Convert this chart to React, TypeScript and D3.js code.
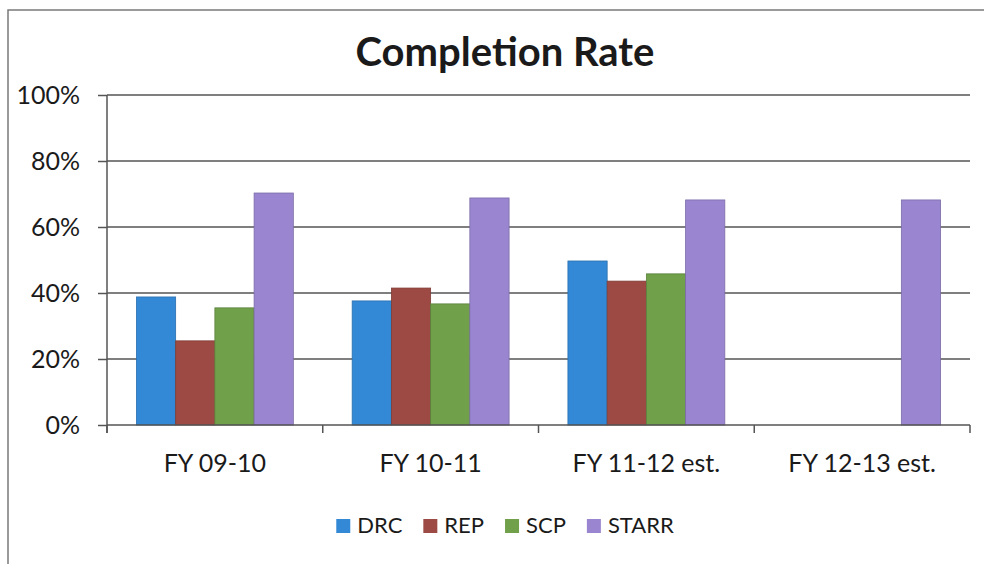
import React, { useRef, useEffect } from 'react';
import * as d3 from 'd3';

const categories = ['FY 09-10', 'FY 10-11', 'FY 11-12 est.', 'FY 12-13 est.'];
const seriesNames = ['DRC', 'REP', 'SCP', 'STARR'];
const drcValues = [0.388, 0.376, 0.497, null];
const repValues = [0.255, 0.415, 0.436, null];
const scpValues = [0.355, 0.367, 0.458, null];
const starrValues = [0.703, 0.688, 0.682, 0.682];
const seriesColors = ['#3489d6', '#9c4a43', '#71a04b', '#9a86d0'];
const yTicks = [0, 0.2, 0.4, 0.6, 0.8, 1];

const FONT = 'Lato, Calibri, Carlito, sans-serif';

export default function App() {
  const svgRef = useRef<SVGSVGElement>(null);

  useEffect(() => {
    if (!svgRef.current) return;
    const svg = d3.select(svgRef.current);
    svg.selectAll('*').remove();

    const width = 984;
    const height = 564;
    const margin = { top: 95, right: 14, bottom: 139, left: 107 };
    const values = [drcValues, repValues, scpValues, starrValues];

    const x0 = d3.scaleBand<string>()
      .domain(categories)
      .range([margin.left, width - margin.right])
      .padding(0);

    const x1 = d3.scaleBand<string>()
      .domain(seriesNames)
      .range([0, x0.bandwidth()])
      .paddingInner(0)
      .paddingOuter(0.75);

    const y = d3.scaleLinear()
      .domain([0, 1])
      .range([height - margin.bottom, margin.top]);

    // chart border: only the left and top edges fall inside the picture
    svg.append('path')
      .attr('d', `M8,${height} V10 H${width}`)
      .attr('fill', 'none').attr('stroke', '#7a7a7a').attr('stroke-width', 1.5);

    // title
    svg.append('text')
      .attr('x', 505).attr('y', 66)
      .attr('text-anchor', 'middle')
      .attr('font-family', FONT).attr('font-weight', 'bold').attr('font-size', 40)
      .attr('fill', '#1a1a1a')
      .text('Completion Rate');

    // gridlines
    svg.append('g')
      .selectAll('line')
      .data(yTicks.filter(d => d > 0))
      .join('line')
      .attr('x1', margin.left).attr('x2', width - margin.right)
      .attr('y1', d => y(d)).attr('y2', d => y(d))
      .attr('stroke', '#555').attr('stroke-width', 1.5);

    // bars
    seriesNames.forEach((name, si) => {
      svg.append('g')
        .selectAll('rect')
        .data(categories.map((c, i) => ({ c, v: values[si][i] })).filter(d => d.v != null))
        .join('rect')
        .attr('x', d => x0(d.c)! + x1(name)!)
        .attr('width', x1.bandwidth())
        .attr('y', d => y(d.v as number))
        .attr('height', d => y(0) - y(d.v as number))
        .attr('fill', seriesColors[si])
        .attr('stroke', d3.color(seriesColors[si])!.darker(0.6).toString())
        .attr('stroke-width', 0.8);
    });

    // y axis
    const yAxis = svg.append('g')
      .attr('transform', `translate(${margin.left},0)`)
      .call(d3.axisLeft(y).tickValues(yTicks).tickSize(9).tickPadding(18).tickFormat(d => `${Math.round((d as number) * 100)}%`));
    yAxis.select('.domain').remove();
    yAxis.append('line')
      .attr('x1', 0).attr('x2', 0).attr('y1', y(1)).attr('y2', y(0) + 8)
      .attr('stroke', '#555').attr('stroke-width', 1.5);
    yAxis.selectAll('line').attr('stroke', '#555').attr('stroke-width', 1.5);
    yAxis.selectAll('text').attr('font-family', FONT).attr('font-size', 25).attr('fill', '#1a1a1a');

    // x axis
    const boundaries = [...categories.map(c => x0(c)!), x0.range()[1]];
    svg.append('line')
      .attr('x1', margin.left).attr('x2', width - margin.right)
      .attr('y1', y(0)).attr('y2', y(0))
      .attr('stroke', '#555').attr('stroke-width', 1.5);
    svg.append('g')
      .selectAll('line')
      .data(boundaries)
      .join('line')
      .attr('x1', d => d).attr('x2', d => d)
      .attr('y1', y(0)).attr('y2', y(0) + 8)
      .attr('stroke', '#555').attr('stroke-width', 1.5);
    svg.append('g')
      .selectAll('text')
      .data(categories)
      .join('text')
      .attr('x', d => x0(d)! + x0.bandwidth() / 2)
      .attr('y', y(0) + 47)
      .attr('text-anchor', 'middle')
      .attr('font-family', FONT).attr('font-size', 25).attr('fill', '#1a1a1a')
      .text(d => d);

    // legend
    const legend = svg.append('g');
    let cursor = 0;
    seriesNames.forEach((name, i) => {
      const g = legend.append('g');
      g.append('rect')
        .attr('x', 0).attr('y', -14).attr('width', 14).attr('height', 14)
        .attr('fill', seriesColors[i]);
      const t = g.append('text')
        .attr('x', 21).attr('y', 0)
        .attr('font-family', FONT).attr('font-size', 22).attr('fill', '#1a1a1a')
        .text(name);
      const w = 21 + (t.node() as SVGTextElement).getComputedTextLength();
      g.attr('transform', `translate(${cursor},0)`);
      cursor += w + 21;
    });
    const totalW = cursor - 21;
    legend.attr('transform', `translate(${505 - totalW / 2},533)`);
  }, []);

  return (
    <svg
      ref={svgRef}
      width={984}
      height={564}
      style={{ position: 'absolute', left: 0, top: 0, background: '#fff' }}
    />
  );
}
